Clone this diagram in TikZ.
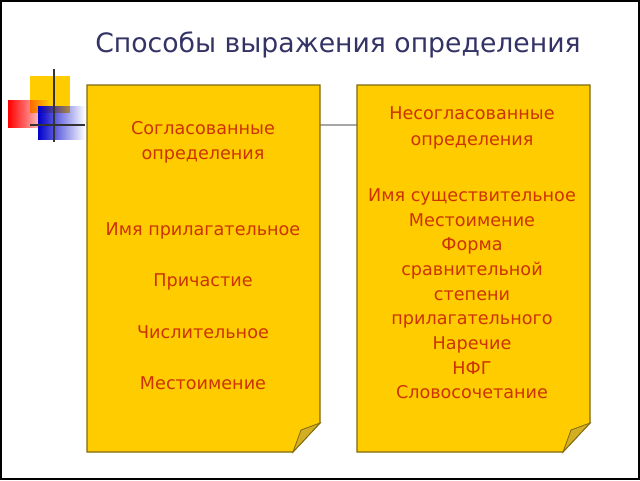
\documentclass[tikz,border=0pt]{standalone}
\usepackage{fontspec}
\setmainfont{DejaVu Sans}
\usetikzlibrary{fadings}
\definecolor{card}{HTML}{FFCC00}
\definecolor{cardedge}{HTML}{7F6A10}
\definecolor{fold}{HTML}{D4AE22}
\definecolor{txt}{HTML}{CC3300}
\definecolor{ttl}{HTML}{333366}
\tikzfading[name=fade right, left color=transparent!0, right color=transparent!100]
\tikzset{cardbox/.style={fill=card,draw=cardedge,line width=0.8pt},
  foldbox/.style={fill=fold,draw=cardedge,line width=0.6pt},
  lbl/.style={text=txt,font=\fontsize{13.2}{15}\selectfont,align=center,inner sep=0pt}}
\begin{document}
\begin{tikzpicture}[x=0.75pt,y=-0.75pt]
\useasboundingbox (0,0) rectangle (640,480);
\fill[white] (0,0) rectangle (640,480);
\draw[black,line width=1pt] (1,1) rectangle (639,479);
\node[text=ttl,font=\fontsize{20}{23}\selectfont] (title) at (338,45) {Способы выражения определения};
% decoration
\fill[card] (30,76) rectangle (70,113);
\fill[red,path fading=fade right] (8,100) rectangle (50,128);
\fill[blue!80!black,path fading=fade right] (38,106) rectangle (85,140);
\draw[black!80,line width=1.3pt] (54,69) -- (54,142);
\draw[black!80,line width=1.3pt] (30,125) -- (85,125);
% connector
\coordinate (la) at (320,125); \coordinate (ra) at (357,125);
\draw[gray!70,line width=1pt] (la) -- (ra);
% cards
\foreach \x in {87,357}{
  \draw[cardbox] (\x,85) -- (\x+233,85) -- (\x+233,423) -- (\x+206,452) -- (\x,452) -- cycle;
  \draw[foldbox] (\x+206,452) -- (\x+214,430) -- (\x+233,423) -- cycle;
}
\node[lbl] (l1) at (203,142) {Согласованные\\[4pt]определения};
\node[lbl] (l2) at (203,231) {Имя прилагательное};
\node[lbl] (l3) at (203,282) {Причастие};
\node[lbl] (l4) at (203,332) {Числительное};
\node[lbl] (l5) at (203,383) {Местоимение};
\node[lbl] (r1) at (472,128) {Несогласованные\\[4pt]определения};
\node[lbl,align=center] (r2) at (472,294) {Имя существительное\\[3.5pt]Местоимение\\[3.5pt]Форма\\[3.5pt]сравнительной\\[3.5pt]степени\\[3.5pt]прилагательного\\[3.5pt]Наречие\\[3.5pt]НФГ\\[3.5pt]Словосочетание};
\end{tikzpicture}
\end{document}
